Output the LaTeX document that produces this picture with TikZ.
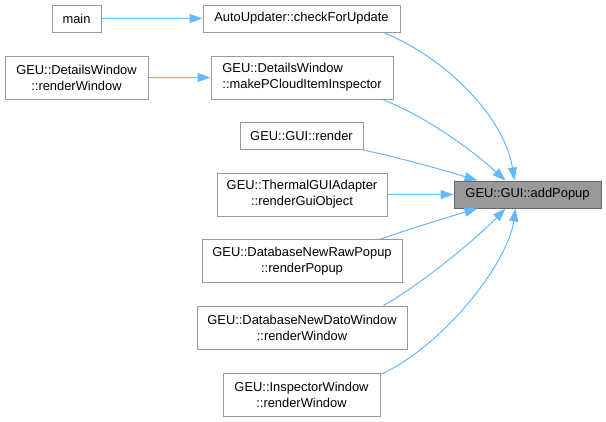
\documentclass[tikz,border=0pt]{standalone}
\usepackage{fontspec}
\setmainfont{Liberation Sans}
\usetikzlibrary{calc,arrows.meta}
\definecolor{edgeblue}{HTML}{63B8FF}
\definecolor{boxgray}{HTML}{999999}
\definecolor{darkgray}{HTML}{666666}
\begin{document}
\begin{tikzpicture}[x=1pt,y=-1pt,
  fn/.style={draw=boxgray,fill=white,line width=1pt,inner sep=0pt,align=center,
    font=\fontsize{12.9}{16}\selectfont},
  cur/.style={fn,draw=darkgray,fill=boxgray},
  edge/.style={draw=edgeblue,line width=1pt,-{Triangle[length=13pt,width=9pt]}}]
\useasboundingbox (0,0) rectangle (606,421);
\node[fn,minimum width=49pt,minimum height=27pt] (main) at (76.5,18.5) {main};
\node[fn,minimum width=197pt,minimum height=27pt] (auto) at (301.5,18.5) {AutoUpdater::checkForUpdate};
\node[fn,minimum width=143pt,minimum height=43pt] (dwrw) at (76.5,77.5) {GEU::DetailsWindow\\::renderWindow};
\node[fn,align=left,minimum width=182pt,minimum height=43pt] (mpci) at (302,77.5) {GEU::DetailsWindow\\::makePCloudItemInspector};
\node[fn,minimum width=123pt,minimum height=27pt] (render) at (301.5,136) {GEU::GUI::render};
\node[fn,minimum width=170pt,minimum height=43pt] (thermal) at (302,194.5) {GEU::ThermalGUIAdapter\\::renderGuiObject};
\node[fn,minimum width=200pt,minimum height=43pt] (raw) at (302,261) {GEU::DatabaseNewRawPopup\\::renderPopup};
\node[fn,minimum width=210pt,minimum height=43pt] (dato) at (302,327.5) {GEU::DatabaseNewDatoWindow\\::renderWindow};
\node[fn,minimum width=157pt,minimum height=43pt] (insp) at (301.5,394.5) {GEU::InspectorWindow\\::renderWindow};
\node[cur,minimum width=147pt,minimum height=27pt] (add) at (527.5,194.5) {GEU::GUI::addPopup};

\draw[edge] (main) -- (auto);
\draw[edge] (dwrw) -- (mpci);
\draw[edge] ($(auto.south east)+(-17,0)$) .. controls (450,60) and (505,120) .. ($(add.north west)+(61,0)$);
\draw[edge] ($(mpci.south east)+(-11,0)$) .. controls (425,116) and (472,150) .. ($(add.north west)+(52,0)$);
\draw[edge] (render.south east) .. controls (400,158) and (440,169) .. ($(add.north west)+(24,0)$);
\draw[edge] (thermal) -- (add);
\draw[edge] ($(raw.north east)+(-22,0)$) .. controls (410,229) and (445,218) .. ($(add.south west)+(24,0)$);
\draw[edge] ($(dato.north east)+(-24,0)$) .. controls (420,285) and (475,240) .. ($(add.south west)+(52,0)$);
\draw[edge] ($(insp.north east)+(0,2)$) .. controls (445,345) and (508,262) .. ($(add.south west)+(62,0)$);
\end{tikzpicture}
\end{document}
